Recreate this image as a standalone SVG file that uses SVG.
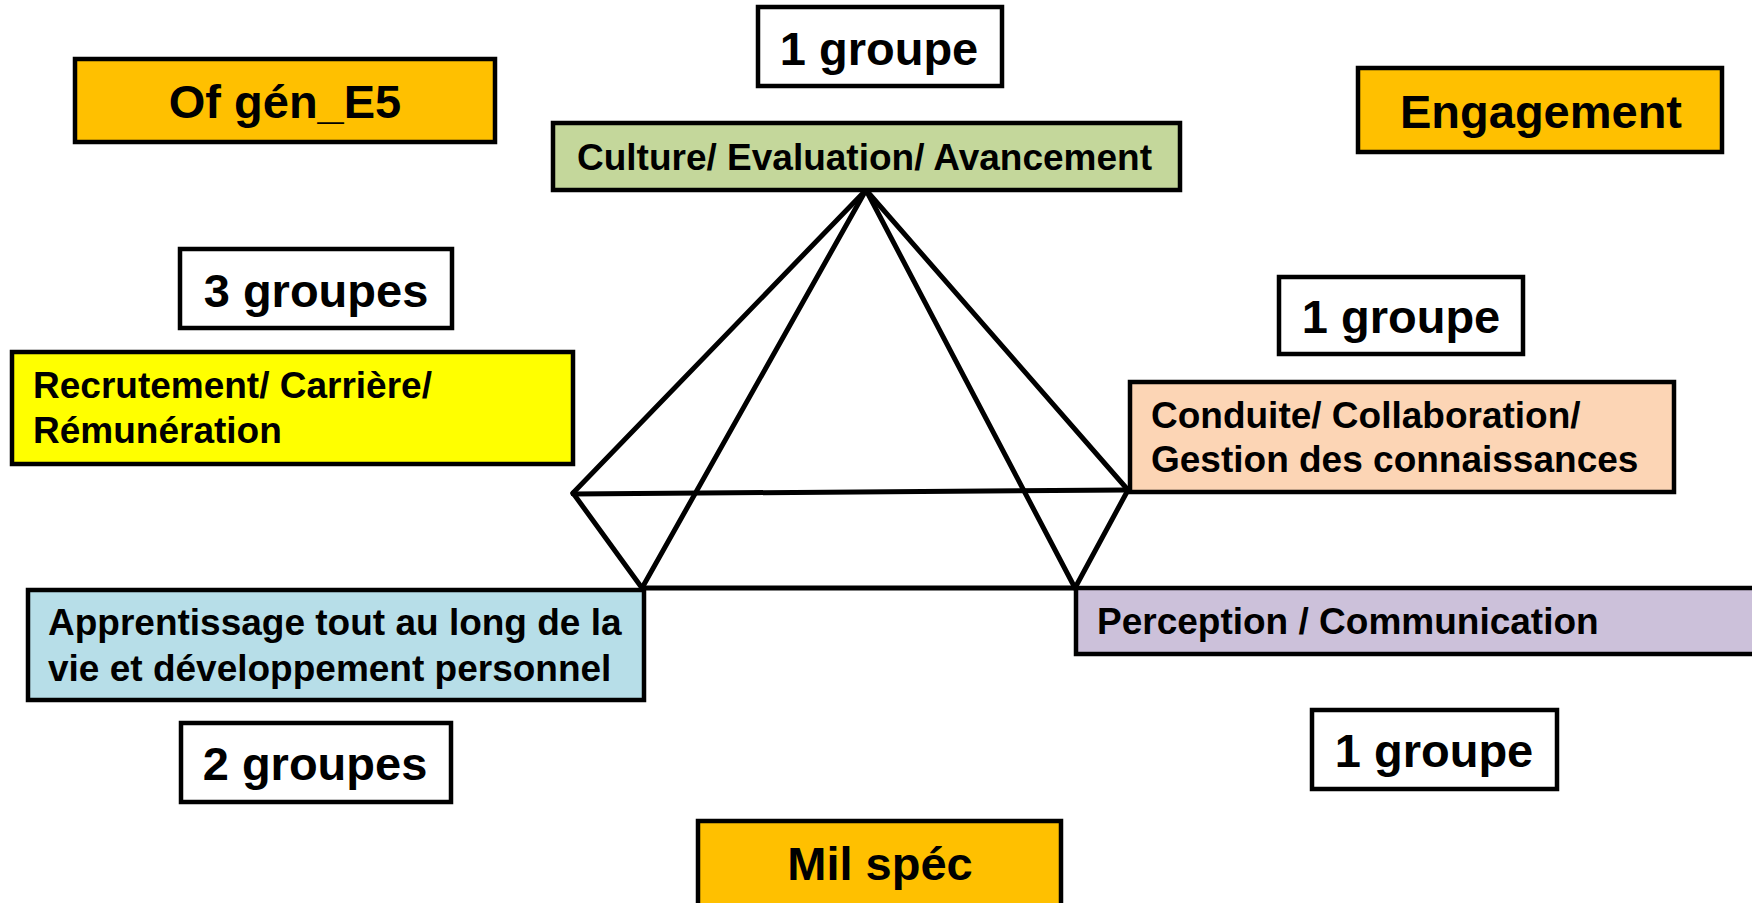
<svg xmlns="http://www.w3.org/2000/svg" width="1752" height="903" viewBox="0 0 1752 903">
<style>
.box{stroke:#000;stroke-width:4.5}
.big{font-family:"Liberation Sans",Arial,sans-serif;font-weight:bold;font-size:47px;fill:#000;text-anchor:middle}
.lbl{font-family:"Liberation Sans",Arial,sans-serif;font-weight:bold;font-size:37px;fill:#000}
.ln{stroke:#000;stroke-width:5;fill:none;stroke-linecap:round;stroke-linejoin:round}
</style>
<rect width="1752" height="903" fill="#fff"/>
<g id="connectors">
<line class="ln" x1="866" y1="190" x2="573" y2="493"/>
<line class="ln" x1="866" y1="190" x2="642" y2="588"/>
<line class="ln" x1="866" y1="190" x2="1075" y2="588"/>
<line class="ln" x1="866" y1="190" x2="1128" y2="490"/>
<line class="ln" x1="573" y1="494" x2="1126" y2="490"/>
<line class="ln" x1="573" y1="493" x2="642" y2="588"/>
<line class="ln" x1="1128" y1="490" x2="1075" y2="588"/>
<line class="ln" x1="642" y1="588" x2="1075" y2="588"/>
</g>
<g id="ofgen"><rect class="box" x="75" y="59" width="420" height="83" fill="#FFC000"/><text class="big" x="285" y="118">Of gén_E5</text></g>
<g id="grp-top"><rect class="box" x="758" y="7" width="244" height="79" fill="#fff"/><text class="big" x="879" y="65">1 groupe</text></g>
<g id="culture"><rect class="box" x="553" y="123" width="627" height="67" fill="#C4D79B"/><text class="lbl" x="577" y="170">Culture/ Evaluation/ Avancement</text></g>
<g id="engagement"><rect class="box" x="1358" y="68" width="364" height="84" fill="#FFC000"/><text class="big" x="1541" y="128">Engagement</text></g>
<g id="grp-left"><rect class="box" x="180" y="249" width="272" height="79" fill="#fff"/><text class="big" x="316" y="307">3 groupes</text></g>
<g id="grp-right"><rect class="box" x="1279" y="277" width="244" height="77" fill="#fff"/><text class="big" x="1401" y="333">1 groupe</text></g>
<g id="recrutement"><rect class="box" x="12" y="352" width="561" height="112" fill="#FFFF00"/><text class="lbl" x="33" y="398">Recrutement/ Carrière/</text><text class="lbl" x="33" y="443">Rémunération</text></g>
<g id="conduite"><rect class="box" x="1130" y="382" width="544" height="110" fill="#FCD5B5"/><text class="lbl" x="1151" y="428">Conduite/ Collaboration/</text><text class="lbl" x="1151" y="472">Gestion des connaissances</text></g>
<g id="apprentissage"><rect class="box" x="28" y="590" width="616" height="110" fill="#B7DEE8"/><text class="lbl" x="48" y="635">Apprentissage tout au long de la</text><text class="lbl" x="48" y="681">vie et développement personnel</text></g>
<g id="perception"><rect class="box" x="1076" y="588" width="700" height="66" fill="#CCC1DA"/><text class="lbl" x="1097" y="634">Perception / Communication</text></g>
<g id="grp-bottom-left"><rect class="box" x="181" y="723" width="270" height="79" fill="#fff"/><text class="big" x="315" y="780">2 groupes</text></g>
<g id="grp-bottom-right"><rect class="box" x="1312" y="710" width="245" height="79" fill="#fff"/><text class="big" x="1434" y="767">1 groupe</text></g>
<g id="milspec"><rect class="box" x="698" y="821" width="363" height="90" fill="#FFC000"/><text class="big" x="880" y="880">Mil spéc</text></g>
</svg>
